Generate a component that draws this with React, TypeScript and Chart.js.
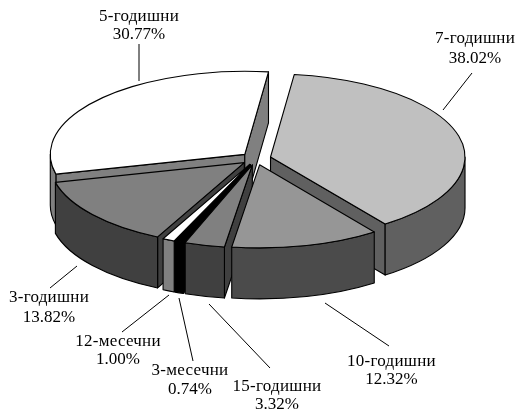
import React, { useEffect, useRef } from "react";
import { Chart, registerables } from "chart.js";

Chart.register(...registerables);

const categories = ["7-годишни", "10-годишни", "15-годишни", "3-месечни", "12-месечни", "3-годишни", "5-годишни"];
const shares = [38.02, 12.32, 3.32, 0.74, 1.0, 13.82, 30.77];
const shareLabels = ["38.02%", "12.32%", "3.32%", "0.74%", "1.00%", "13.82%", "30.77%"];
const topColors = ["#c0c0c0", "#969696", "#808080", "#000000", "#ffffff", "#808080", "#ffffff"];
const sideColors = ["#606060", "#4b4b4b", "#404040", "#000000", "#808080", "#404040", "#808080"];

// Layout of the tilted pie on the page
const PIE = { cx: 256, cy: 158.6, radius: 194.5, tilt: 0.427, depth: 51, explode: 15, rotation: 7 };
// Layout of the outside labels: centre x, two baselines, leader line
const LABELS = [
  { x: 475, y1: 43, y2: 63, line: [472, 73, 443, 110] },
  { x: 391.5, y1: 366, y2: 384, line: [325, 303, 389, 346] },
  { x: 277, y1: 391, y2: 409, line: [209, 304, 270, 368] },
  { x: 190, y1: 375, y2: 394, line: [179, 298, 193, 361] },
  { x: 118, y1: 346, y2: 364, line: [169, 295, 122, 332] },
  { x: 49, y1: 302, y2: 322, line: [77, 266, 50, 288] },
  { x: 139, y1: 21, y2: 39, line: [139, 44, 139, 81] },
];

const piePlugin = {
  id: "pie3d",
  beforeDatasetDraw(chart: any, args: any) {
    const ctx: CanvasRenderingContext2D = chart.ctx;
    const meta = chart.getDatasetMeta(args.index);
    const { cx, cy, tilt, depth, explode } = PIE;
    const items = meta.data.map((arc: any, i: number) => {
      const mid = (arc.startAngle + arc.endAngle) / 2;
      return { arc, i, mid };
    });
    items.sort((a: any, b: any) => Math.sin(a.mid) - Math.sin(b.mid));
    ctx.save();
    ctx.lineWidth = 1.1;
    ctx.lineJoin = "round";
    ctx.strokeStyle = "#000000";
    for (const { arc, i, mid } of items) {
      const r = arc.outerRadius;
      const s = arc.startAngle;
      const e = arc.endAngle;
      const ax = cx + Math.cos(mid) * explode;
      const ay = cy + Math.sin(mid) * explode * tilt;
      const px = (a: number) => ax + Math.cos(a) * r;
      const py = (a: number) => ay + Math.sin(a) * r * tilt;
      ctx.fillStyle = sideColors[i];
      const wall = (a: number) => {
        ctx.beginPath();
        ctx.moveTo(ax, ay);
        ctx.lineTo(px(a), py(a));
        ctx.lineTo(px(a), py(a) + depth);
        ctx.lineTo(ax, ay + depth);
        ctx.closePath();
        ctx.fill();
        ctx.stroke();
      };
      if (Math.cos(s) < 0) wall(s);
      if (Math.cos(e) > 0) wall(e);
      for (let k = -1; k <= 1; k++) {
        const lo = Math.max(s, k * 2 * Math.PI);
        const hi = Math.min(e, k * 2 * Math.PI + Math.PI);
        if (hi <= lo) continue;
        ctx.beginPath();
        ctx.ellipse(ax, ay, r, r * tilt, 0, lo, hi);
        ctx.lineTo(px(hi), py(hi) + depth);
        ctx.ellipse(ax, ay + depth, r, r * tilt, 0, hi, lo, true);
        ctx.closePath();
        ctx.fill();
        ctx.stroke();
      }
      // Top face: filled by the library's own arc element under the tilt transform
      ctx.save();
      ctx.translate(ax, ay);
      ctx.scale(1, tilt);
      ctx.translate(-arc.x, -arc.y);
      arc.draw(ctx);
      ctx.restore();
      ctx.beginPath();
      ctx.moveTo(ax, ay);
      ctx.ellipse(ax, ay, r, r * tilt, 0, s, e);
      ctx.closePath();
      ctx.stroke();
    }
    ctx.restore();
    return false;
  },
  afterDraw(chart: any) {
    const ctx: any = chart.ctx;
    ctx.save();
    ctx.strokeStyle = "#000000";
    ctx.lineWidth = 1;
    ctx.fillStyle = "#000000";
    ctx.font = '17px "Liberation Serif"';
    ctx.textAlign = "center";
    ctx.textBaseline = "alphabetic";
    LABELS.forEach((l, i) => {
      ctx.beginPath();
      ctx.moveTo(l.line[0], l.line[1]);
      ctx.lineTo(l.line[2], l.line[3]);
      ctx.stroke();
      ctx.letterSpacing = "0.25px";
      ctx.fillText(categories[i], l.x, l.y1);
      ctx.letterSpacing = "0px";
      ctx.fillText(shareLabels[i], l.x, l.y2);
    });
    ctx.restore();
  },
};

export default function App() {
  const ref = useRef<HTMLCanvasElement>(null);
  useEffect(() => {
    const chart = new Chart(ref.current as HTMLCanvasElement, {
      type: "pie",
      data: {
        labels: categories,
        datasets: [
          {
            data: shares,
            backgroundColor: topColors,
            borderWidth: 0,
            offset: 0,
            hoverOffset: 0,
          },
        ],
      },
      options: {
        animation: false,
        responsive: false,
        events: [],
        rotation: PIE.rotation,
        radius: PIE.radius,
        layout: { padding: 0 },
        plugins: { legend: { display: false }, tooltip: { enabled: false } },
      },
      plugins: [piePlugin],
    } as any);
    return () => chart.destroy();
  }, []);
  return (
    <canvas
      ref={ref}
      width={517}
      height={414}
      style={{ position: "absolute", left: 0, top: 0, display: "block" }}
    />
  );
}
